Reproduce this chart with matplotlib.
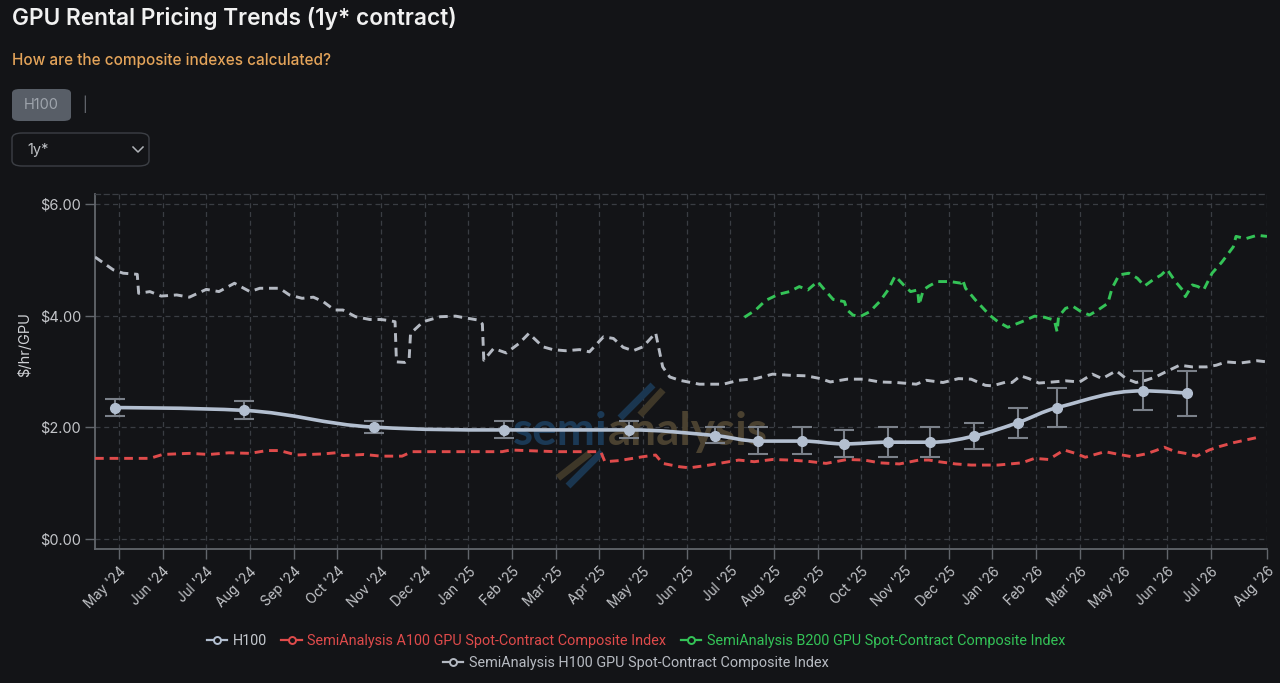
import matplotlib
matplotlib.use("Agg")
import matplotlib.pyplot as plt
import matplotlib.dates as mdates
import numpy as np
import pandas as pd
from matplotlib.lines import Line2D
from matplotlib.patches import FancyBboxPatch, PathPatch
from matplotlib.path import Path

# ---- data -------------------------------------------------------------------
H100_DATES = ["2024-05-15", "2024-08-15", "2024-11-15", "2025-02-15", "2025-05-15",
              "2025-07-15", "2025-08-15", "2025-09-15", "2025-10-15", "2025-11-15",
              "2025-12-15", "2026-01-15", "2026-02-15", "2026-03-15", "2026-05-15",
              "2026-06-15"]
H100_PRICE = [2.35, 2.30, 2.00, 1.95, 1.95, 1.85, 1.75, 1.75, 1.70, 1.73, 1.73,
              1.84, 2.08, 2.35, 2.65, 2.61]
H100_LOW = [2.20, 2.15, 1.89, 1.81, 1.81, 1.71, 1.51, 1.51, 1.46, 1.46, 1.46,
            1.60, 1.81, 2.00, 2.31, 2.20]
H100_HIGH = [2.50, 2.46, 2.11, 2.11, 2.11, 2.00, 2.00, 2.00, 1.95, 2.00, 2.00,
             2.08, 2.35, 2.71, 3.00, 3.00]

H100_IDX_DATES = [
    "2024-05-01", "2024-05-14", "2024-05-21", "2024-05-31", "2024-06-01", "2024-06-09",
    "2024-06-17", "2024-06-28", "2024-07-07", "2024-07-19", "2024-07-28", "2024-08-08",
    "2024-08-19", "2024-08-26", "2024-09-09", "2024-09-16", "2024-09-25", "2024-10-03",
    "2024-10-10", "2024-10-18", "2024-10-24", "2024-11-02", "2024-11-12", "2024-11-20",
    "2024-11-26", "2024-11-30", "2024-12-01", "2024-12-07", "2024-12-10", "2024-12-11",
    "2024-12-20", "2025-01-01", "2025-01-12", "2025-01-21", "2025-01-28", "2025-01-31",
    "2025-02-01", "2025-02-08", "2025-02-17", "2025-02-26", "2025-03-05", "2025-03-15",
    "2025-03-22", "2025-03-31", "2025-04-10", "2025-04-17", "2025-04-27", "2025-05-04",
    "2025-05-11", "2025-05-18", "2025-05-25", "2025-06-03", "2025-06-08", "2025-06-13",
    "2025-06-20", "2025-07-04", "2025-07-21", "2025-08-01", "2025-08-13", "2025-08-25",
    "2025-09-06", "2025-09-18", "2025-09-28", "2025-10-05", "2025-10-17", "2025-10-29",
    "2025-11-09", "2025-11-21", "2025-12-05", "2025-12-12", "2025-12-24", "2026-01-04",
    "2026-01-13", "2026-01-23", "2026-01-28", "2026-02-07", "2026-02-11", "2026-02-17",
    "2026-02-23", "2026-03-02", "2026-03-12", "2026-03-21", "2026-03-31", "2026-04-09",
    "2026-04-16", "2026-04-26", "2026-05-03", "2026-05-10", "2026-05-17", "2026-05-24",
    "2026-05-31", "2026-06-10", "2026-06-19", "2026-06-29", "2026-07-06", "2026-07-13",
    "2026-07-23", "2026-08-04", "2026-08-11"]
H100_IDX = [
    5.05, 4.82, 4.76, 4.74, 4.40, 4.43, 4.35, 4.37, 4.33, 4.47, 4.43, 4.58,
    4.43, 4.49, 4.49, 4.37, 4.31, 4.33, 4.25, 4.10, 4.10, 3.98, 3.93, 3.93,
    3.91, 3.89, 3.17, 3.16, 3.22, 3.68, 3.89, 3.98, 3.99, 3.95, 3.92, 3.85,
    3.20, 3.41, 3.33, 3.50, 3.68, 3.44, 3.39, 3.37, 3.39, 3.35, 3.62, 3.59,
    3.43, 3.37, 3.44, 3.69, 3.08, 2.90, 2.84, 2.77, 2.77, 2.84, 2.87, 2.95,
    2.93, 2.92, 2.87, 2.81, 2.86, 2.86, 2.81, 2.80, 2.77, 2.84, 2.80, 2.87,
    2.86, 2.75, 2.74, 2.81, 2.80, 2.92, 2.87, 2.79, 2.81, 2.83, 2.81, 2.95,
    2.87, 3.01, 2.87, 2.80, 2.84, 2.90, 2.99, 3.11, 3.08, 3.08, 3.11, 3.17,
    3.15, 3.19, 3.17]

A100_IDX_DATES = [
    "2024-05-01", "2024-05-18", "2024-06-09", "2024-06-18", "2024-07-07", "2024-07-21",
    "2024-08-04", "2024-08-19", "2024-08-31", "2024-09-09", "2024-09-21", "2024-10-10",
    "2024-10-19", "2024-10-24", "2024-11-08", "2024-11-20", "2024-12-05", "2024-12-12",
    "2025-01-07", "2025-02-14", "2025-02-20", "2025-03-24", "2025-04-25", "2025-04-28",
    "2025-05-08", "2025-05-25", "2025-06-03", "2025-06-08", "2025-06-20", "2025-06-27",
    "2025-07-11", "2025-07-25", "2025-08-01", "2025-08-12", "2025-08-25", "2025-09-06",
    "2025-09-18", "2025-10-02", "2025-10-17", "2025-10-29", "2025-11-09", "2025-11-23",
    "2025-12-07", "2025-12-14", "2025-12-21", "2026-01-02", "2026-01-13", "2026-01-25",
    "2026-02-01", "2026-02-18", "2026-02-27", "2026-03-09", "2026-03-20", "2026-03-28",
    "2026-04-04", "2026-04-11", "2026-04-18", "2026-04-28", "2026-05-07", "2026-05-17",
    "2026-05-24", "2026-05-30", "2026-06-07", "2026-06-14", "2026-06-22", "2026-07-01",
    "2026-07-08", "2026-07-18", "2026-07-27", "2026-08-07"]
A100_IDX = [
    1.44, 1.44, 1.44, 1.51, 1.53, 1.51, 1.54, 1.53, 1.58, 1.58, 1.50, 1.52,
    1.54, 1.49, 1.51, 1.48, 1.48, 1.56, 1.56, 1.56, 1.59, 1.56, 1.56, 1.38,
    1.40, 1.47, 1.50, 1.35, 1.29, 1.27, 1.32, 1.38, 1.41, 1.38, 1.42, 1.41,
    1.39, 1.35, 1.42, 1.41, 1.36, 1.34, 1.41, 1.41, 1.38, 1.34, 1.32, 1.32,
    1.32, 1.36, 1.44, 1.42, 1.59, 1.53, 1.46, 1.51, 1.56, 1.51, 1.47, 1.52,
    1.58, 1.64, 1.56, 1.53, 1.48, 1.59, 1.65, 1.72, 1.77, 1.83]

B200_IDX_DATES = [
    "2025-08-05", "2025-08-13", "2025-08-20", "2025-08-29", "2025-09-06", "2025-09-13",
    "2025-09-19", "2025-09-26", "2025-09-30", "2025-10-07", "2025-10-15", "2025-10-17",
    "2025-10-21", "2025-10-26", "2025-11-02", "2025-11-09", "2025-11-15", "2025-11-20",
    "2025-11-26", "2025-12-01", "2025-12-06", "2025-12-07", "2025-12-10", "2025-12-14",
    "2025-12-20", "2025-12-29", "2026-01-06", "2026-01-07", "2026-01-09", "2026-01-16",
    "2026-01-26", "2026-02-01", "2026-02-08", "2026-02-18", "2026-02-27", "2026-03-06",
    "2026-03-13", "2026-03-15", "2026-03-16", "2026-03-21", "2026-03-26", "2026-04-01",
    "2026-04-07", "2026-04-13", "2026-04-20", "2026-04-23", "2026-04-28", "2026-05-05",
    "2026-05-11", "2026-05-16", "2026-05-22", "2026-05-28", "2026-06-01", "2026-06-07",
    "2026-06-12", "2026-06-14", "2026-06-19", "2026-06-23", "2026-06-27", "2026-07-03",
    "2026-07-10", "2026-07-18", "2026-07-20", "2026-07-27", "2026-08-04", "2026-08-11"]
B200_IDX = [
    3.97, 4.10, 4.27, 4.38, 4.43, 4.52, 4.46, 4.61, 4.49, 4.29, 4.25, 4.10,
    4.01, 3.98, 4.07, 4.25, 4.46, 4.71, 4.55, 4.43, 4.46, 4.19, 4.46, 4.53,
    4.61, 4.61, 4.58, 4.64, 4.49, 4.28, 4.01, 3.89, 3.79, 3.89, 3.99, 3.97,
    3.92, 3.71, 3.98, 4.13, 4.17, 4.07, 4.01, 4.10, 4.22, 4.49, 4.73, 4.76,
    4.67, 4.53, 4.64, 4.73, 4.83, 4.61, 4.46, 4.34, 4.55, 4.52, 4.46, 4.76,
    4.96, 5.23, 5.42, 5.38, 5.44, 5.42]

TICK_LABELS = ["May '24", "Jun '24", "Jul '24", "Aug '24", "Sep '24", "Oct '24",
               "Nov '24", "Dec '24", "Jan '25", "Feb '25", "Mar '25", "Apr '25",
               "May '25", "Jun '25", "Jul '25", "Aug '25", "Sep '25", "Oct '25",
               "Nov '25", "Dec '25", "Jan '26", "Feb '26", "Mar '26", "May '26",
               "Jun '26", "Jul '26", "Aug '26"]
Y_TICKS = [0, 2, 4, 6]

LEGEND_NAMES = ["H100",
                "SemiAnalysis A100 GPU Spot-Contract Composite Index",
                "SemiAnalysis B200 GPU Spot-Contract Composite Index",
                "SemiAnalysis H100 GPU Spot-Contract Composite Index"]

# ---- style -------------------------------------------------------------------
BG = "#131417"
GRID = "#3a3d43"
AXIS = "#62666c"
TICK_TXT = "#c4c6ca"
C_H100 = "#b3bfd0"
C_ERR = "#7b818a"
C_H100_IDX = "#b4b9c2"
C_A100 = "#df4b4b"
C_B200 = "#34c357"

X_START = "2024-05-01"
X_END = "2026-08-11"
TICK_START = "2024-05-18"
TICK_STEP_DAYS = 31

FONT = ["Inter", "DejaVu Sans"]
plt.rcParams["font.family"] = FONT


def px_x(x):
    return x / 1280.0


def px_y(y):
    return 1.0 - y / 683.0


def spline_path(xs, ys):
    """Highcharts-style spline through the points, as one cubic bezier path."""
    smooth, denom = 1.5, 2.5
    n = len(xs)
    left = [None] * n
    right = [None] * n
    for i in range(n):
        x, y = xs[i], ys[i]
        if i == 0 or i == n - 1:
            left[i] = (x, y)
            right[i] = (x, y)
            continue
        lx, ly = xs[i - 1], ys[i - 1]
        nx, ny = xs[i + 1], ys[i + 1]
        lcx = (smooth * x + lx) / denom
        lcy = (smooth * y + ly) / denom
        rcx = (smooth * x + nx) / denom
        rcy = (smooth * y + ny) / denom
        if rcx != lcx:
            corr = (rcy - lcy) * (rcx - x) / (rcx - lcx) + y - rcy
            lcy += corr
            rcy += corr
        if lcy > ly and lcy > y:
            lcy = max(ly, y)
            rcy = 2 * y - lcy
        elif lcy < ly and lcy < y:
            lcy = min(ly, y)
            rcy = 2 * y - lcy
        if rcy > ny and rcy > y:
            rcy = max(ny, y)
            lcy = 2 * y - rcy
        elif rcy < ny and rcy < y:
            rcy = min(ny, y)
            lcy = 2 * y - rcy
        left[i] = (lcx, lcy)
        right[i] = (rcx, rcy)
    verts = [(xs[0], ys[0])]
    codes = [Path.MOVETO]
    for i in range(1, n):
        verts += [right[i - 1], left[i], (xs[i], ys[i])]
        codes += [Path.CURVE4] * 3
    return Path(verts, codes)


def to_num(dates):
    return mdates.date2num(pd.to_datetime(dates))


fig = plt.figure(figsize=(12.8, 6.83), dpi=100, facecolor=BG)

# ---- header / controls -------------------------------------------------------
fig.text(px_x(12), px_y(19), "GPU Rental Pricing Trends (1y* contract)", color="#f1f1f1",
         fontsize=16.3, fontweight="semibold", va="center", ha="left")
fig.text(px_x(12), px_y(60), "How are the composite indexes calculated?", color="#e4a45a",
         fontsize=11, fontweight="medium", va="center", ha="left")

fig.patches.append(FancyBboxPatch((px_x(12), px_y(121)), px_x(59), 32 / 683.0,
                                  boxstyle="round,pad=0,rounding_size=0.006",
                                  transform=fig.transFigure, facecolor="#585e67",
                                  edgecolor="none"))
fig.text(px_x(41.5), px_y(105), "H100", color="#9ea4ac", fontsize=10.5,
         va="center", ha="center")
fig.text(px_x(85), px_y(104), "|", color="#6a6e75", fontsize=10, va="center", ha="center")
fig.patches.append(FancyBboxPatch((px_x(12), px_y(166)), px_x(137), 33 / 683.0,
                                  boxstyle="round,pad=0,rounding_size=0.008",
                                  transform=fig.transFigure, facecolor=BG,
                                  edgecolor="#3c3f45", linewidth=1.0))
fig.text(px_x(27), px_y(150), "1y*", color="#bfc2c6", fontsize=10.5, va="center", ha="left")
fig.add_artist(Line2D([px_x(133), px_x(138), px_x(143)], [px_y(147), px_y(152), px_y(147)],
                      transform=fig.transFigure, color="#b0b3b8", linewidth=1.1))

fig.text(px_x(25), px_y(345), "$/hr/GPU", color="#d0d2d6", fontsize=10.5,
         rotation=90, va="center", ha="center")

# ---- chart -------------------------------------------------------------------
ax = fig.add_axes([px_x(95), px_y(549), px_x(1267 - 95), (549 - 194) / 683.0])
ax.set_facecolor(BG)

x0 = mdates.date2num(pd.Timestamp(X_START))
x1 = mdates.date2num(pd.Timestamp(X_END))
ax.set_xlim(x0, x1)
ax.set_ylim(-0.185, 6.18)

tick_dates = [pd.Timestamp(TICK_START) + pd.Timedelta(days=TICK_STEP_DAYS * k)
              for k in range(len(TICK_LABELS) - 1)] + [pd.Timestamp(X_END)]
ax.set_xticks(mdates.date2num(tick_dates))
ax.set_xticklabels(TICK_LABELS, rotation=45, ha="right", va="top",
                   rotation_mode="anchor", color=TICK_TXT, fontsize=9.7)
ax.set_yticks(Y_TICKS)
ax.set_yticklabels([f"${v:.2f}" for v in Y_TICKS], color=TICK_TXT, fontsize=10.5)
ax.tick_params(axis="x", length=7, width=1, color=AXIS, pad=4)
ax.tick_params(axis="y", length=7, width=1, color=AXIS, pad=3)
ax.grid(True, color=GRID, linestyle=(0, (4, 3)), linewidth=0.9)
ax.set_axisbelow(True)

for side in ("left", "bottom"):
    ax.spines[side].set_color(AXIS)
    ax.spines[side].set_linewidth(1.3)
ax.spines["right"].set_visible(False)
ax.spines["top"].set_color(GRID)
ax.spines["top"].set_linestyle((0, (4, 3)))
ax.spines["top"].set_linewidth(0.9)

# watermark ("semi" blue, "analysis" brown, two slashes through it)
wm_x = (513 - 95) / 1172
wm_y = (549 - 432) / 355
semi = ax.text(wm_x, wm_y, "semi", transform=ax.transAxes, color="#1b3955", fontsize=33,
               fontweight="bold", va="center", ha="left", zorder=1, family="Lato")
fig.canvas.draw()
bb = semi.get_window_extent().transformed(ax.transAxes.inverted())
ax.text(bb.x1, wm_y, "analysis", transform=ax.transAxes, color="#4a4130", fontsize=33,
        fontweight="bold", va="center", ha="left", zorder=1, family="Lato")
for (xa, ya, xb, yb, col) in [((558 - 95) / 1172, (549 - 478) / 355, (590 - 95) / 1172, (549 - 453) / 355, "#3e3728"),
                              ((568 - 95) / 1172, (549 - 486) / 355, (602 - 95) / 1172, (549 - 452) / 355, "#1a3650"),
                              ((620 - 95) / 1172, (549 - 418) / 355, (653 - 95) / 1172, (549 - 385) / 355, "#1a3650"),
                              ((640 - 95) / 1172, (549 - 415) / 355, (663 - 95) / 1172, (549 - 390) / 355, "#3e3728")]:
    ax.add_line(Line2D([xa, xb], [ya, yb], transform=ax.transAxes, color=col,
                       linewidth=5, solid_capstyle="butt", zorder=1))

dash = (0, (3.0, 2.0))
ax.plot(to_num(A100_IDX_DATES), A100_IDX, color=C_A100, linewidth=2.1, linestyle=dash,
        zorder=3)
ax.plot(to_num(B200_IDX_DATES), B200_IDX, color=C_B200, linewidth=2.1, linestyle=dash,
        zorder=3)
ax.plot(to_num(H100_IDX_DATES), H100_IDX, color=C_H100_IDX, linewidth=2.1, linestyle=dash,
        zorder=3)

hx = to_num(H100_DATES)
hy = np.array(H100_PRICE)
yerr = np.vstack([hy - np.array(H100_LOW), np.array(H100_HIGH) - hy])
ax.errorbar(hx, hy, yerr=yerr, fmt="none", ecolor=C_ERR, elinewidth=1.5,
            capsize=7, capthick=1.5, zorder=4)
ax.add_patch(PathPatch(spline_path(list(hx), list(hy)), facecolor="none",
                       edgecolor=C_H100, linewidth=2.6, zorder=5, capstyle="round"))
ax.plot(hx, hy, linestyle="none", marker="o", markersize=7, color=C_H100, zorder=6)

# ---- legend ------------------------------------------------------------------
def handle(color):
    return Line2D([], [], color=color, linewidth=1.6, marker="o", markersize=5,
                  markerfacecolor=BG, markeredgecolor=color, markeredgewidth=1.4)


leg_colors = [C_H100, C_A100, C_B200, C_H100_IDX]
leg_text = ["#c4c8ce", C_A100, C_B200, "#b8bcc3"]
leg_font = {"family": "Roboto", "size": 10.4}
leg1 = fig.legend([handle(c) for c in leg_colors[:3]], LEGEND_NAMES[:3], ncol=3,
                  loc="center", bbox_to_anchor=(px_x(636), px_y(641)), frameon=False,
                  handlelength=1.4, handletextpad=0.4, columnspacing=1.0, prop=leg_font)
for t, c in zip(leg1.get_texts(), leg_text[:3]):
    t.set_color(c)
leg2 = fig.legend([handle(leg_colors[3])], LEGEND_NAMES[3:], loc="center",
                  bbox_to_anchor=(px_x(636), px_y(663)), frameon=False,
                  handlelength=1.4, handletextpad=0.4, prop=leg_font)
for t in leg2.get_texts():
    t.set_color(leg_text[3])

fig.savefig("out.png", dpi=100, facecolor=BG)
